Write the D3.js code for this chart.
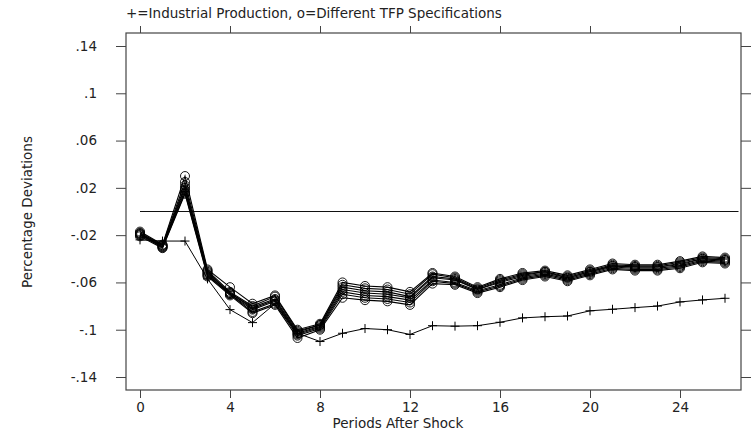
<!DOCTYPE html>
<html><head><meta charset="utf-8">
<script src="https://cdn.jsdelivr.net/npm/d3@7"></script>
<style>body{margin:0;background:#fff}svg{display:block}</style>
</head><body>
<svg id="c" width="756" height="435"></svg>
<script>
const periods = [0,1,2,3,4,5,6,7,8,9,10,11,12,13,14,15,16,17,18,19,20,21,22,23,24,25,26];
const industrial = [-0.024,-0.025,-0.025,-0.057,-0.083,-0.094,-0.078,-0.103,-0.110,-0.103,-0.099,-0.100,-0.104,-0.0966,-0.097,-0.0966,-0.0937,-0.090,-0.089,-0.0884,-0.084,-0.0827,-0.0813,-0.080,-0.0765,-0.0748,-0.0734];
const tfp1 = [-0.017,-0.028,0.030,-0.049,-0.064,-0.078,-0.071,-0.100,-0.095,-0.060,-0.063,-0.064,-0.068,-0.052,-0.055,-0.064,-0.057,-0.052,-0.050,-0.054,-0.049,-0.044,-0.045,-0.045,-0.042,-0.038,-0.039];
const tfp2 = [-0.018,-0.0285,0.025,-0.050,-0.068,-0.080,-0.072,-0.101,-0.096,-0.062,-0.065,-0.066,-0.070,-0.053,-0.056,-0.065,-0.058,-0.053,-0.051,-0.055,-0.050,-0.045,-0.046,-0.046,-0.043,-0.039,-0.040];
const tfp3 = [-0.0185,-0.029,0.022,-0.051,-0.069,-0.081,-0.074,-0.102,-0.096,-0.064,-0.067,-0.068,-0.072,-0.055,-0.057,-0.066,-0.059,-0.054,-0.051,-0.056,-0.051,-0.046,-0.047,-0.047,-0.044,-0.040,-0.041];
const tfp4 = [-0.019,-0.0295,0.020,-0.052,-0.069,-0.082,-0.075,-0.103,-0.097,-0.066,-0.069,-0.070,-0.073,-0.056,-0.058,-0.066,-0.060,-0.055,-0.052,-0.056,-0.051,-0.046,-0.047,-0.047,-0.045,-0.040,-0.041];
const tfp5 = [-0.0195,-0.030,0.018,-0.053,-0.070,-0.083,-0.076,-0.104,-0.098,-0.068,-0.071,-0.072,-0.075,-0.058,-0.060,-0.067,-0.062,-0.056,-0.053,-0.057,-0.052,-0.047,-0.048,-0.048,-0.046,-0.041,-0.042];
const tfp6 = [-0.020,-0.0305,0.016,-0.054,-0.070,-0.085,-0.078,-0.105,-0.099,-0.070,-0.073,-0.074,-0.077,-0.059,-0.061,-0.068,-0.063,-0.057,-0.054,-0.058,-0.053,-0.048,-0.049,-0.049,-0.047,-0.042,-0.043];
const tfp7 = [-0.021,-0.031,0.015,-0.055,-0.071,-0.086,-0.079,-0.107,-0.100,-0.073,-0.075,-0.076,-0.079,-0.061,-0.062,-0.069,-0.064,-0.058,-0.055,-0.059,-0.054,-0.049,-0.050,-0.050,-0.048,-0.043,-0.044];
const tfpSeries = [tfp1,tfp2,tfp3,tfp4,tfp5,tfp6,tfp7];
const xTickValues = [0,4,8,12,16,20,24];
const xTickLabels = ["0","4","8","12","16","20","24"];
const yTickValues = [0.14,0.1,0.06,0.02,-0.02,-0.06,-0.1,-0.14];
const yTickLabels = [".14",".1",".06",".02","-.02","-.06","-.1","-.14"];
const zeroLine = [0, 26.6];
const titleText = "+=Industrial Production, o=Different TFP Specifications";
const xTitle = "Periods After Shock";
const yTitle = "Percentage Deviations";

const svg = d3.select("#c");
const F = "'DejaVu Sans', Verdana, sans-serif";
const FS = 13.5;
const frame = {l:126, r:741, t:33, b:390};
const x = d3.scaleLinear().domain([0,26]).range([140,725]);
const y = d3.scaleLinear().domain([-0.14,0.14]).range([377,46]);

svg.append("rect").attr("width",756).attr("height",435).attr("fill","#fff");

// axes
const gL = svg.append("g").attr("transform",`translate(${frame.l},0)`)
  .call(d3.axisLeft(y).tickValues(yTickValues).tickSize(10).tickPadding(19)
    .tickFormat((d,i)=>yTickLabels[i]));
const gR = svg.append("g").attr("transform",`translate(${frame.r},0)`)
  .call(d3.axisRight(y).tickValues(yTickValues).tickSize(10).tickFormat(""));
const gB = svg.append("g").attr("transform",`translate(0,${frame.b})`)
  .call(d3.axisBottom(x).tickValues(xTickValues).tickSize(8).tickPadding(4)
    .tickFormat((d,i)=>xTickLabels[i]));
const gT = svg.append("g").attr("transform",`translate(0,${frame.t})`)
  .call(d3.axisTop(x).tickValues(xTickValues).tickSize(7).tickFormat(""));
[gL,gR,gB,gT].forEach(g=>{
  g.select(".domain").remove();
  g.selectAll(".tick line").attr("stroke","#444").attr("stroke-width",1);
  g.selectAll(".tick text").attr("font-family",F).attr("font-size",FS).attr("fill","#222");
});

svg.append("rect").attr("x",frame.l).attr("y",frame.t)
  .attr("width",frame.r-frame.l).attr("height",frame.b-frame.t)
  .attr("fill","none").attr("stroke","#444").attr("stroke-width",1.2);

// zero line
svg.append("line").attr("x1",x(zeroLine[0])).attr("x2",x(zeroLine[1]))
  .attr("y1",y(0)).attr("y2",y(0)).attr("stroke","#111").attr("stroke-width",1.2);

const line = d3.line().x((d,i)=>x(periods[i])).y(d=>y(d));

// TFP series
const gTfp = svg.append("g");
tfpSeries.forEach(s=>{
  gTfp.append("path").datum(s).attr("d",line).attr("fill","none")
    .attr("stroke","#000").attr("stroke-width",1.1);
});
tfpSeries.forEach(s=>{
  gTfp.selectAll(null).data(s).enter().append("circle")
    .attr("cx",(d,i)=>x(periods[i])).attr("cy",d=>y(d)).attr("r",4.5)
    .attr("fill","none").attr("stroke","#000").attr("stroke-width",0.9);
});

// industrial production
svg.append("path").datum(industrial).attr("d",line).attr("fill","none")
  .attr("stroke","#000").attr("stroke-width",1);
svg.append("g").selectAll("path").data(industrial).enter().append("path")
  .attr("d",(d,i)=>{const cx=x(periods[i]), cy=y(d), h=4.5;
    return `M${cx-h},${cy}H${cx+h}M${cx},${cy-h}V${cy+h}`;})
  .attr("stroke","#000").attr("stroke-width",1).attr("fill","none");

// titles
svg.append("text").attr("x",126).attr("y",18).attr("font-family",F).attr("font-size",FS)
  .attr("fill","#222").text(titleText);
svg.append("text").attr("x",398).attr("y",428).attr("text-anchor","middle")
  .attr("font-family",F).attr("font-size",FS).attr("fill","#222").text(xTitle);
svg.append("text").attr("transform","translate(32,212) rotate(-90)").attr("text-anchor","middle")
  .attr("font-family",F).attr("font-size",FS).attr("fill","#222").text(yTitle);
</script>
</body></html>
